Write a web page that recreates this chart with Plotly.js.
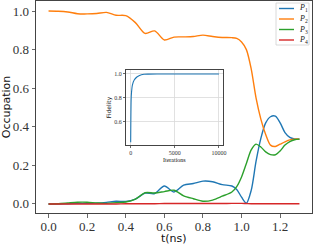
<!DOCTYPE html>
<html>
<head>
<meta charset="utf-8">
<script src="https://cdn.plot.ly/plotly-3.0.1.min.js"></script>
<style>html,body{margin:0;padding:0;background:#fff;}#chart{width:313px;height:244px;}</style>
</head>
<body>
<div id="chart"></div>
<script>
// ---- data ----
var t = [0, 0.05, 0.1, 0.15, 0.2, 0.25, 0.3, 0.35, 0.4, 0.45, 0.5, 0.55, 0.6, 0.65, 0.7, 0.75, 0.8, 0.85, 0.9, 0.95, 0.975, 1.0, 1.025, 1.05, 1.075, 1.1, 1.125, 1.15, 1.175, 1.2, 1.225, 1.25, 1.275, 1.3];
var P1 = [0, 0, 0.001, 0.003, 0.003, 0.004, 0.008, 0.014, 0.013, 0.025, 0.056, 0.054, 0.093, 0.062, 0.097, 0.106, 0.118, 0.115, 0.100, 0.093, 0.075, 0.035, 0.004, 0.07, 0.22, 0.34, 0.42, 0.452, 0.455, 0.42, 0.37, 0.345, 0.337, 0.336];
var P2 = [1.0, 0.999, 0.995, 0.986, 0.985, 0.987, 0.993, 0.978, 0.976, 0.94, 0.884, 0.897, 0.85, 0.865, 0.866, 0.868, 0.875, 0.868, 0.863, 0.862, 0.858, 0.84, 0.80, 0.70, 0.55, 0.44, 0.36, 0.305, 0.298, 0.31, 0.322, 0.332, 0.336, 0.336];
var P3 = [0, 0.001, 0.005, 0.009, 0.009, 0.005, 0.003, 0.007, 0.010, 0.025, 0.058, 0.057, 0.064, 0.071, 0.042, 0.027, 0.014, 0.02, 0.04, 0.062, 0.09, 0.14, 0.21, 0.28, 0.31, 0.295, 0.27, 0.256, 0.255, 0.275, 0.305, 0.323, 0.333, 0.336];
var P4 = [0, 0, 0, 0, 0, 0, 0, 0, 0.001, 0.001, 0.001, 0.001, 0.002, 0.002, 0.002, 0.002, 0.002, 0.002, 0.002, 0.003, 0.003, 0.003, 0.002, 0.001, 0.001, 0.001, 0.001, 0.001, 0.001, 0.001, 0.001, 0.001, 0.001, 0.001];
var seriesNames = ["<i>P</i><sub>1</sub>", "<i>P</i><sub>2</sub>", "<i>P</i><sub>3</sub>", "<i>P</i><sub>4</sub>"];
var seriesColors = ["#1f77b4", "#ff7f0e", "#2ca02c", "#d62728"];
var iterations = [0, 50, 100, 200, 400, 700, 1000, 1500, 2000, 3000, 5000, 7500, 10000];
var fidelity = [0.43, 0.78, 0.85, 0.91, 0.95, 0.975, 0.988, 0.997, 0.999, 1.0, 1.0, 1.0, 1.0];
var xTicks = [0, 0.2, 0.4, 0.6, 0.8, 1.0, 1.2];
var yTicks = [0, 0.2, 0.4, 0.6, 0.8, 1.0];
var insetXTicks = [0, 5000, 10000];
var insetYTicks = [0.6, 0.8, 1.0];

// ---- layout helpers ----
var W = 313, H = 244;
var M = {l: 36, r: 1, t: 1, b: 31};
var PW = W - M.l - M.r, PH = H - M.t - M.b;
function px(x) { return (x - M.l) / PW; }
function py(y) { return (H - M.b - y) / PH; }

var series = [P1, P2, P3, P4];
var traces = series.map(function (s, i) {
  return {x: t, y: s, type: 'scatter', mode: 'lines', name: seriesNames[i],
    line: {color: seriesColors[i], width: 1.4, shape: 'spline', smoothing: 0.8},
    xaxis: 'x', yaxis: 'y', showlegend: false, hoverinfo: 'skip'};
});
traces.push({x: iterations, y: fidelity, type: 'scatter', mode: 'lines',
  line: {color: '#1f77b4', width: 1.1, shape: 'spline', smoothing: 0.6},
  xaxis: 'x2', yaxis: 'y2', showlegend: false, hoverinfo: 'skip'});

var serif = 'Liberation Serif';
var sans = 'DejaVu Sans';

// manual legend
var shapes = [{type: 'rect', xref: 'paper', yref: 'paper', x0: px(276), x1: px(309), y0: py(45), y1: py(3),
  line: {color: '#d0d0d0', width: 0.8}, fillcolor: 'rgba(255,255,255,0.85)', layer: 'above'}];
var annotations = [];
var rowY = [8.5, 19, 29.5, 40];
seriesNames.forEach(function (n, i) {
  shapes.push({type: 'line', xref: 'paper', yref: 'paper', x0: px(279), x1: px(294), y0: py(rowY[i]), y1: py(rowY[i]),
    line: {color: seriesColors[i], width: 1.4}, layer: 'above'});
  annotations.push({xref: 'paper', yref: 'paper', x: px(297), y: py(rowY[i]), xanchor: 'left', yanchor: 'middle',
    text: n, showarrow: false, font: {family: serif, size: 8, color: '#222'}});
});
// main x-axis title
annotations.push({xref: 'paper', yref: 'paper', x: 0.5, y: py(238.5), xanchor: 'center', yanchor: 'middle',
  text: 't(ns)', showarrow: false, font: {family: sans, size: 11, color: '#111'}});

var axisCommon = {showline: true, mirror: true, linecolor: '#444', linewidth: 1, ticks: 'outside',
  tickcolor: '#444', ticklen: 3.5, tickwidth: 0.8, zeroline: false, showgrid: false, automargin: false};

var layout = {
  width: W, height: H, margin: M, paper_bgcolor: '#fff', plot_bgcolor: 'rgba(0,0,0,0)',
  font: {family: serif},
  xaxis: Object.assign({}, axisCommon, {range: [-0.065, 1.365], tickvals: xTicks,
    ticktext: xTicks.map(function (v) { return v.toFixed(1); }), ticklabelstandoff: -2,
    tickfont: {family: serif, size: 13, color: '#333'}}),
  yaxis: Object.assign({}, axisCommon, {range: [-0.047, 1.052], tickvals: yTicks,
    ticktext: yTicks.map(function (v) { return v.toFixed(1); }),
    tickfont: {family: serif, size: 13, color: '#333'},
    title: {text: 'Occupation', font: {family: sans, size: 11, color: '#111'}, standoff: 3}}),
  xaxis2: Object.assign({}, axisCommon, {domain: [px(126), px(222.7)], anchor: 'y2', range: [-530, 10420],
    tickvals: insetXTicks, ticktext: insetXTicks.map(String), ticklen: 2,
    tickfont: {family: serif, size: 6, color: '#333'},
    showgrid: true, gridcolor: '#d9d9d9', gridwidth: 0.8,
    title: {text: 'Iterations', font: {family: serif, size: 6, color: '#111'}, standoff: 2}}),
  yaxis2: Object.assign({}, axisCommon, {domain: [py(145), py(70)], anchor: 'x2', range: [0.408, 1.033],
    tickvals: insetYTicks, ticktext: insetYTicks.map(function (v) { return v.toFixed(1); }), ticklen: 2,
    tickfont: {family: serif, size: 6, color: '#333'},
    showgrid: true, gridcolor: '#d9d9d9', gridwidth: 0.8,
    title: {text: 'Fidelity', font: {family: sans, size: 6, color: '#111'}, standoff: 2}}),
  shapes: shapes,
  annotations: annotations,
  showlegend: false
};

// white background for inset
layout.shapes.unshift({type: 'rect', xref: 'paper', yref: 'paper', x0: px(126), x1: px(222.7), y0: py(145), y1: py(70),
  fillcolor: '#fff', line: {width: 0}, layer: 'below'});

Plotly.newPlot('chart', traces, layout, {staticPlot: true, displayModeBar: false});
</script>
</body>
</html>
